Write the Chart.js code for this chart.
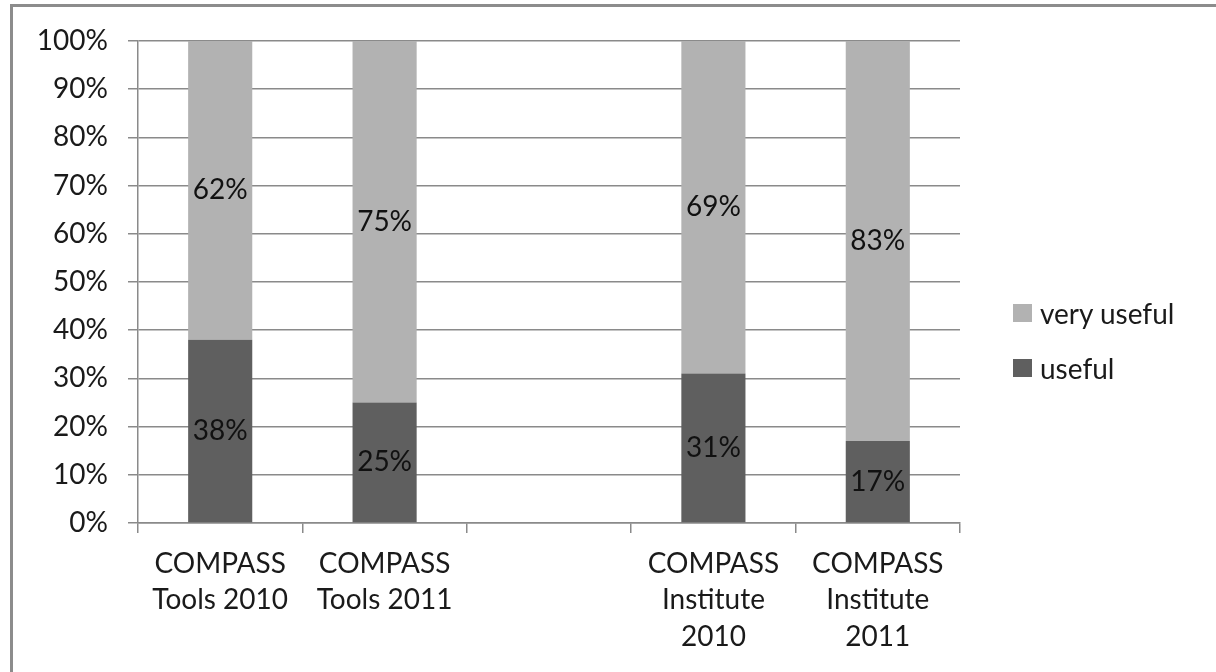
<!DOCTYPE html>
<html>
<head>
<meta charset="utf-8">
<script src="https://cdn.jsdelivr.net/npm/chart.js@4"></script>
<style>
    html, body { margin: 0; padding: 0; background: #fff; }
    .stage { position: relative; width: 1216px; height: 672px; overflow: hidden; font-family: Lato, sans-serif; }
    .frame { position: absolute; left: 10px; top: 4px; width: 1300px; height: 800px; border-left: 3px solid #8c8c8c; border-top: 3px solid #8c8c8c; pointer-events: none; }
    canvas { position: absolute; left: 0; top: 0; }
    .legend { position: absolute; left: 1013px; top: 294px; font-size: 28px; color: #1a1a1a; }
    .legend-item { display: flex; align-items: center; height: 38px; margin-bottom: 17px; }
    .swatch { width: 19px; height: 18px; margin-right: 8px; }
</style>
</head>
<body>
<div class="stage">
    <canvas id="chart" width="1216" height="672"></canvas>
    <div class="legend" id="legend"></div>
    <div class="frame"></div>
</div>
<script>
    const categories = [
        ["COMPASS", "Tools 2010"],
        ["COMPASS", "Tools 2011"],
        "",
        ["COMPASS", "Institute", "2010"],
        ["COMPASS", "Institute", "2011"]
    ];
    const usefulValues = [38, 25, null, 31, 17];
    const veryUsefulValues = [62, 75, null, 69, 83];
    const yTicks = [0, 10, 20, 30, 40, 50, 60, 70, 80, 90, 100];

    const usefulColor = "#5f5f5f";
    const veryUsefulColor = "#b2b2b2";
    const gridColor = "#8a8a8a";
    const textColor = "#1a1a1a";

    // writes each value in the middle of its segment
    const segmentLabels = {
        id: "segmentLabels",
        afterDatasetsDraw(chart) {
            const ctx = chart.ctx;
            ctx.save();
            ctx.font = "28px Lato";
            ctx.fillStyle = "#111";
            ctx.textAlign = "center";
            ctx.textBaseline = "middle";
            chart.data.datasets.forEach((dataset, datasetIndex) => {
                const meta = chart.getDatasetMeta(datasetIndex);
                meta.data.forEach((bar, index) => {
                    const value = dataset.data[index];
                    if (value === null || value === undefined) {
                        return;
                    }
                    ctx.fillText(`${value}%`, bar.x, (bar.y + bar.base) / 2);
                });
            });
            ctx.restore();
        }
    };

    function renderLegend(datasets) {
        const container = document.getElementById("legend");
        container.innerHTML = datasets.slice().reverse().map(dataset => `
            <div class="legend-item">
                <span class="swatch" style="background:${dataset.backgroundColor}"></span>
                <span>${dataset.label}</span>
            </div>
        `).join("");
    }

    function drawChart() {
        const datasets = [
            { label: "useful", data: usefulValues, backgroundColor: usefulColor },
            { label: "very useful", data: veryUsefulValues, backgroundColor: veryUsefulColor }
        ];

        Chart.defaults.font.family = "Lato";
        Chart.defaults.font.size = 28;
        Chart.defaults.color = textColor;

        new Chart(document.getElementById("chart"), {
            type: "bar",
            data: { labels: categories, datasets },
            options: {
                responsive: false,
                animation: false,
                layout: { padding: { top: 41, right: 256, bottom: 0, left: 0 } },
                datasets: {
                    bar: { categoryPercentage: 1, barPercentage: 0.39 }
                },
                plugins: {
                    legend: { display: false },
                    tooltip: { enabled: false }
                },
                scales: {
                    x: {
                        stacked: true,
                        grid: { offset: true, drawOnChartArea: false, color: gridColor, lineWidth: 1.5, tickLength: 10 },
                        border: { color: gridColor, width: 1.5 },
                        ticks: { padding: 12, maxRotation: 0, autoSkip: false, color: textColor, font: { size: 28, lineHeight: 1.32 } },
                        afterFit(scale) { scale.height = 149; }
                    },
                    y: {
                        stacked: true,
                        min: 0,
                        max: 100,
                        afterBuildTicks(scale) { scale.ticks = yTicks.map(value => ({ value })); },
                        grid: { color: gridColor, lineWidth: 1.5, tickLength: 10 },
                        border: { color: gridColor, width: 1.5 },
                        ticks: { padding: 20, color: textColor, callback: value => `${value}%` },
                        afterFit(scale) { scale.width = 138; }
                    }
                }
            },
            plugins: [segmentLabels]
        });

        renderLegend(datasets);
    }

    document.fonts.load("28px Lato").then(drawChart, drawChart);
</script>
</body>
</html>
